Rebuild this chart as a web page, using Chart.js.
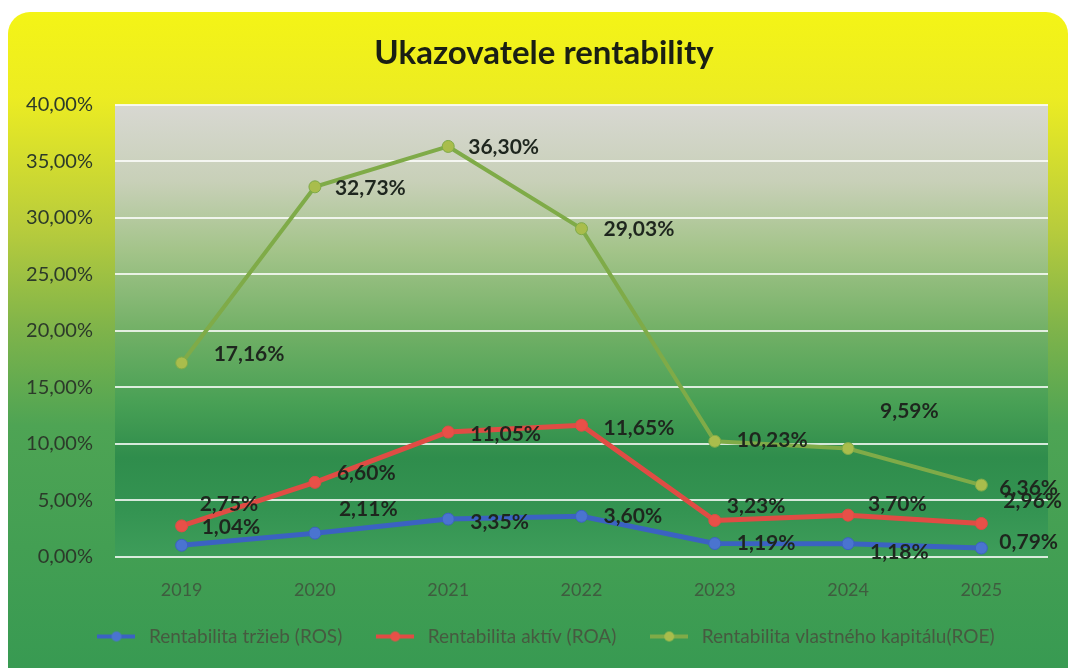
<!DOCTYPE html>
<html>
<head>
<meta charset="utf-8">
<script src="https://cdn.jsdelivr.net/npm/chart.js@4"></script>
<style>
html, body { margin: 0; padding: 0; background: #fff; }
#wrap { width: 1068px; height: 668px; }
</style>
</head>
<body>
<div id="wrap"><canvas id="grafRentabilita"></canvas></div>
<script>
const roky = ["2019", "2020", "2021", "2022", "2023", "2024", "2025"];
const ros = [1.04, 2.11, 3.35, 3.60, 1.19, 1.18, 0.79];
const roa = [2.75, 6.60, 11.05, 11.65, 3.23, 3.70, 2.96];
const roe = [17.16, 32.73, 36.30, 29.03, 10.23, 9.59, 6.36];
const nazvy = ["Rentabilita tržieb (ROS)", "Rentabilita aktív (ROA)", "Rentabilita vlastného kapitálu(ROE)"];

const farby = ["#3b62c2", "#e04c44", "#7fab48"];
const body = ["#4a74d0", "#e85048", "#a9bd4c"];

// posuny popiskov (dx, dy) podla datasetu
const posuny = [
    [[20, -18], [24, -24], [22, 3], [22, 0], [22, 0], [22, 9], [18, -6]],
    [[18, -22], [22, -9], [22, 2], [22, 3], [12, -14], [20, -11], [22, -22]],
    [[32, -9], [20, 1], [20, 1], [22, 1], [22, -1], [32, -37], [18, 3]]
];

function formatPercent(v) {
    return v.toFixed(2).replace(".", ",") + "%";
}

function legendaZnacka(farba, bod) {
    const c = document.createElement("canvas");
    c.width = 38; c.height = 14;
    const x = c.getContext("2d");
    x.strokeStyle = farba; x.lineWidth = 4;
    x.beginPath(); x.moveTo(0, 7); x.lineTo(38, 7); x.stroke();
    x.fillStyle = bod; x.beginPath(); x.arc(19, 7, 5, 0, Math.PI * 2); x.fill();
    return c;
}

const pozadiePlugin = {
    id: "pozadie",
    beforeDraw(chart) {
        const ctx = chart.ctx;
        const a = chart.chartArea;
        ctx.save();
        let g = ctx.createLinearGradient(0, 12, 0, 668);
        g.addColorStop(0, "#f4f416");
        g.addColorStop(0.13, "#ecec22");
        g.addColorStop(0.33, "#b8cc3c");
        g.addColorStop(0.48, "#80b44a");
        g.addColorStop(0.63, "#4ea454");
        g.addColorStop(1, "#389a52");
        ctx.fillStyle = g;
        ctx.beginPath();
        ctx.roundRect(8, 12, 1060, 680, 22);
        ctx.fill();

        g = ctx.createLinearGradient(0, a.top, 0, a.bottom);
        g.addColorStop(0, "#d8d8d2");
        g.addColorStop(0.17, "#c8d0b8");
        g.addColorStop(0.32, "#a4c48a");
        g.addColorStop(0.5, "#72b066");
        g.addColorStop(0.66, "#48a055");
        g.addColorStop(0.78, "#2f8d4c");
        g.addColorStop(0.9, "#349452");
        g.addColorStop(1, "#3e9d5a");
        ctx.fillStyle = g;
        ctx.fillRect(a.left, a.top, a.right - a.left, a.bottom - a.top);
        ctx.restore();
    }
};

const popiskyPlugin = {
    id: "popisky",
    afterDatasetsDraw(chart) {
        const ctx = chart.ctx;
        ctx.save();
        ctx.font = "bold 21px Lato";
        ctx.fillStyle = "#1e261e";
        ctx.textBaseline = "middle";
        ctx.textAlign = "left";
        chart.data.datasets.forEach((ds, i) => {
            chart.getDatasetMeta(i).data.forEach((p, j) => {
                const [dx, dy] = posuny[i][j];
                ctx.fillText(formatPercent(ds.data[j]), p.x + dx, p.y + dy);
            });
        });
        ctx.restore();
    }
};

const serie = [ros, roa, roe];
const ctx = document.getElementById("grafRentabilita").getContext("2d");
new Chart(ctx, {
    type: "line",
    data: {
        labels: roky,
        datasets: serie.map((d, i) => ({
            label: nazvy[i],
            data: d,
            borderColor: farby[i],
            backgroundColor: body[i],
            borderWidth: i === 2 ? 4 : 5,
            pointRadius: 6,
            pointBorderWidth: 1,
            pointBorderColor: farby[i],
            pointBackgroundColor: body[i],
            tension: 0
        }))
    },
    options: {
        responsive: true,
        maintainAspectRatio: false,
        animation: false,
        layout: { padding: { left: 20, right: 0, bottom: 12 } },
        plugins: {
            title: {
                display: true,
                text: "Ukazovatele rentability",
                color: "#1a1f14",
                font: { family: "Lato", size: 33, weight: "bold" },
                padding: { top: 34, bottom: 31 }
            },
            legend: {
                position: "bottom",
                labels: {
                    usePointStyle: true,
                    pointStyleWidth: 46,
                    color: "#465a40",
                    font: { family: "Lato", size: 19 },
                    padding: 30,
                    generateLabels(chart) {
                        return chart.data.datasets.map((ds, i) => ({
                            text: ds.label,
                            pointStyle: legendaZnacka(farby[i], body[i]),
                            fillStyle: body[i],
                            strokeStyle: farby[i],
                            lineWidth: 0,
                            fontColor: "#465a40",
                            datasetIndex: i
                        }));
                    }
                }
            },
            tooltip: { enabled: false }
        },
        scales: {
            x: {
                offset: true,
                grid: { display: false, drawTicks: false },
                border: { display: false },
                ticks: { color: "#3f5c3f", font: { family: "Lato", size: 18 }, padding: 22 },
                afterFit(scale) { scale.height = 40; }
            },
            y: {
                min: 0,
                max: 40,
                grid: { color: "rgba(255,255,255,0.8)", lineWidth: 2, drawTicks: false },
                border: { display: false },
                ticks: {
                    stepSize: 5,
                    color: "#2c3a2a",
                    font: { family: "Lato", size: 20 },
                    padding: 22,
                    callback: v => formatPercent(v)
                },
                afterFit(scale) { scale.width = 95; }
            },
            pravy: {
                position: "right",
                display: true,
                grid: { display: false, drawTicks: false },
                border: { display: false },
                ticks: { display: false },
                afterFit(scale) { scale.width = 20; }
            }
        }
    },
    plugins: [pozadiePlugin, popiskyPlugin]
});
</script>
</body>
</html>
